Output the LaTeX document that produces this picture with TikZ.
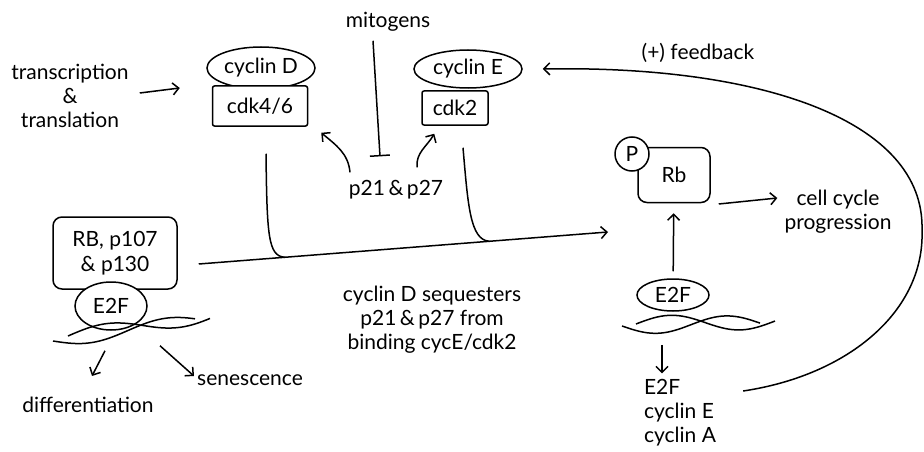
\documentclass[tikz,border=0pt]{standalone}
\usepackage{fontspec}
\setmainfont{Lato}
\usepackage{tikz}
\usetikzlibrary{arrows,arrows.meta,shapes,positioning,calc}
\usepackage{xcolor}
\definecolor{ink}{RGB}{0,0,0}
\tikzstyle{line} = [line width=1.5pt,color=ink]
\tikzstyle{arrow} = [line width=1.5pt,->,>={Straight Barb[length=6pt,width=12pt]},color=ink]
\tikzstyle{inhib} = [line width=1.5pt,-{Bar[width=20pt]},color=ink]
\tikzstyle{blob} = [ellipse,draw,line width=1.5pt,inner sep=0pt,fill=white,font=\fontsize{21}{25}\selectfont]
\tikzstyle{box} = [rectangle,draw,line width=1.5pt,rounded corners=2pt,fill=white,align=center,font=\fontsize{21}{25}\selectfont]
\tikzstyle{lbl} = [align=center,inner sep=1pt,font=\fontsize{21}{24}\selectfont]

\begin{document}
\begin{tikzpicture}[x=1pt,y=-1pt]
\useasboundingbox (0,0) rectangle (924,452);
% cyclin / cdk complexes
\node[blob, minimum width=108, minimum height=42] (cycD) at (261,68) {cyclin D};
\node[box, minimum width=95, minimum height=40] (cdk46) at (260,106) {cdk4/6};
\node[blob, minimum width=108, minimum height=38] (cycE) at (468,69) {cyclin E};
\node[box, minimum width=66, minimum height=34] (cdk2) at (455,108) {cdk2};
\node[lbl] (transc) at (70,96) {transcription\\\&\\translation};
\node[lbl] (mito) at (388,22) {mitogens};
\node[lbl] (p2127) at (396,190) {p21\,\&\,p27};
% pocket proteins on E2F
\node[box, rounded corners=9pt, minimum width=124, minimum height=72, inner sep=2pt] (rbl) at (115,253) {RB, p107\\\& p130};
\node[blob, minimum width=72, minimum height=48] (e2fl) at (111,306) {E2F};
\node[lbl] (diff) at (88,405) {differentiation};
\node[lbl] (sene) at (250,380) {senescence};
\node[lbl] (seq) at (432,320) {cyclin D sequesters\\p21\,\&\,p27 from\\binding cycE/cdk2};
% phosphorylated Rb
\node[box, rounded corners=9pt, minimum width=72, minimum height=55] (rb) at (674,175) {Rb};
\node[circle, draw, line width=1.5pt, fill=white, inner sep=0pt, minimum size=34, font=\fontsize{21}{25}\selectfont] (P) at (632,154) {P};
\node[lbl] (ccp) at (838,212) {cell cycle\\progression};
\node[blob, minimum width=72, minimum height=32] (e2fr) at (673,295) {E2F};
\node[lbl, align=left] (targets) at (680,413) {E2F\\cyclin E\\cyclin A};
\node[lbl] (fb) at (698,53) {(+) feedback};

% DNA strands
\draw[line] plot[smooth, domain=53:195, samples=40] (\x,{341-0.14*(\x-53)+7*sin(2.4*(\x-53))});
\draw[line] plot[smooth, domain=68:210, samples=40] (\x,{336-0.14*(\x-68)-7*sin(2.4*(\x-68))});
\draw[line] plot[smooth, domain=622:760, samples=40] (\x,{326-0.02*(\x-622)+8*sin(2.6*(\x-622))});
\draw[line] plot[smooth, domain=636:775, samples=40] (\x,{324-0.02*(\x-636)-8*sin(2.6*(\x-636))});

% connectors
\coordinate (mainstart) at ([xshift=21,yshift=-11]rbl.east);
\coordinate (mainend) at (608,232);
\coordinate (joinD) at ($(mainstart)!0.21!(mainend)$);
\coordinate (joinE) at ($(mainstart)!0.71!(mainend)$);
\draw[arrow] (mainstart) -- (mainend);
\draw[line] ([xshift=6,yshift=-27]cdk46.south) .. controls (267,235) and (268,256) .. (joinD);
\draw[line] ([xshift=8,yshift=-22]cdk2.south) .. controls (468,205) and (470,240) .. (joinE);
\draw[arrow] ([xshift=10,yshift=3]transc.east) -- ([xshift=-32,yshift=18]cdk46.west);
\draw[inhib] ([xshift=-15,yshift=-8]mito.south) -- ([xshift=-16,yshift=23]p2127.north);
\draw[arrow] ([xshift=-46,yshift=7]p2127.north) to[out=95,in=-40] ([xshift=13,yshift=-6]cdk46.south east);
\draw[arrow] ([xshift=21,yshift=12]p2127.north) to[out=95,in=-120] ([xshift=13,yshift=-8]cdk2.south west);
\draw[arrow] ([xshift=-6,yshift=-20]e2fl.south) -- ([xshift=4,yshift=20]diff.north);
\draw[arrow] ([xshift=49,yshift=-15]e2fl.south) -- ([xshift=-2,yshift=4]sene.west);
\draw[arrow, shorten <=7pt, shorten >=10pt] (e2fr) -- (rb);
\draw[arrow] ([xshift=8,yshift=-29]rb.east) -- ([xshift=-6,yshift=14]ccp.west);
\draw[arrow] ([xshift=-11,yshift=-33]e2fr.south) -- ([xshift=-18,yshift=5]targets.north);
% positive feedback loop
\draw[arrow] ([xshift=26,yshift=22]targets.east) .. controls (850,375) and (925,310) .. (922,230)
  .. controls (925,120) and (760,65) .. ([xshift=20]cycE.east);
\end{tikzpicture}
\end{document}
